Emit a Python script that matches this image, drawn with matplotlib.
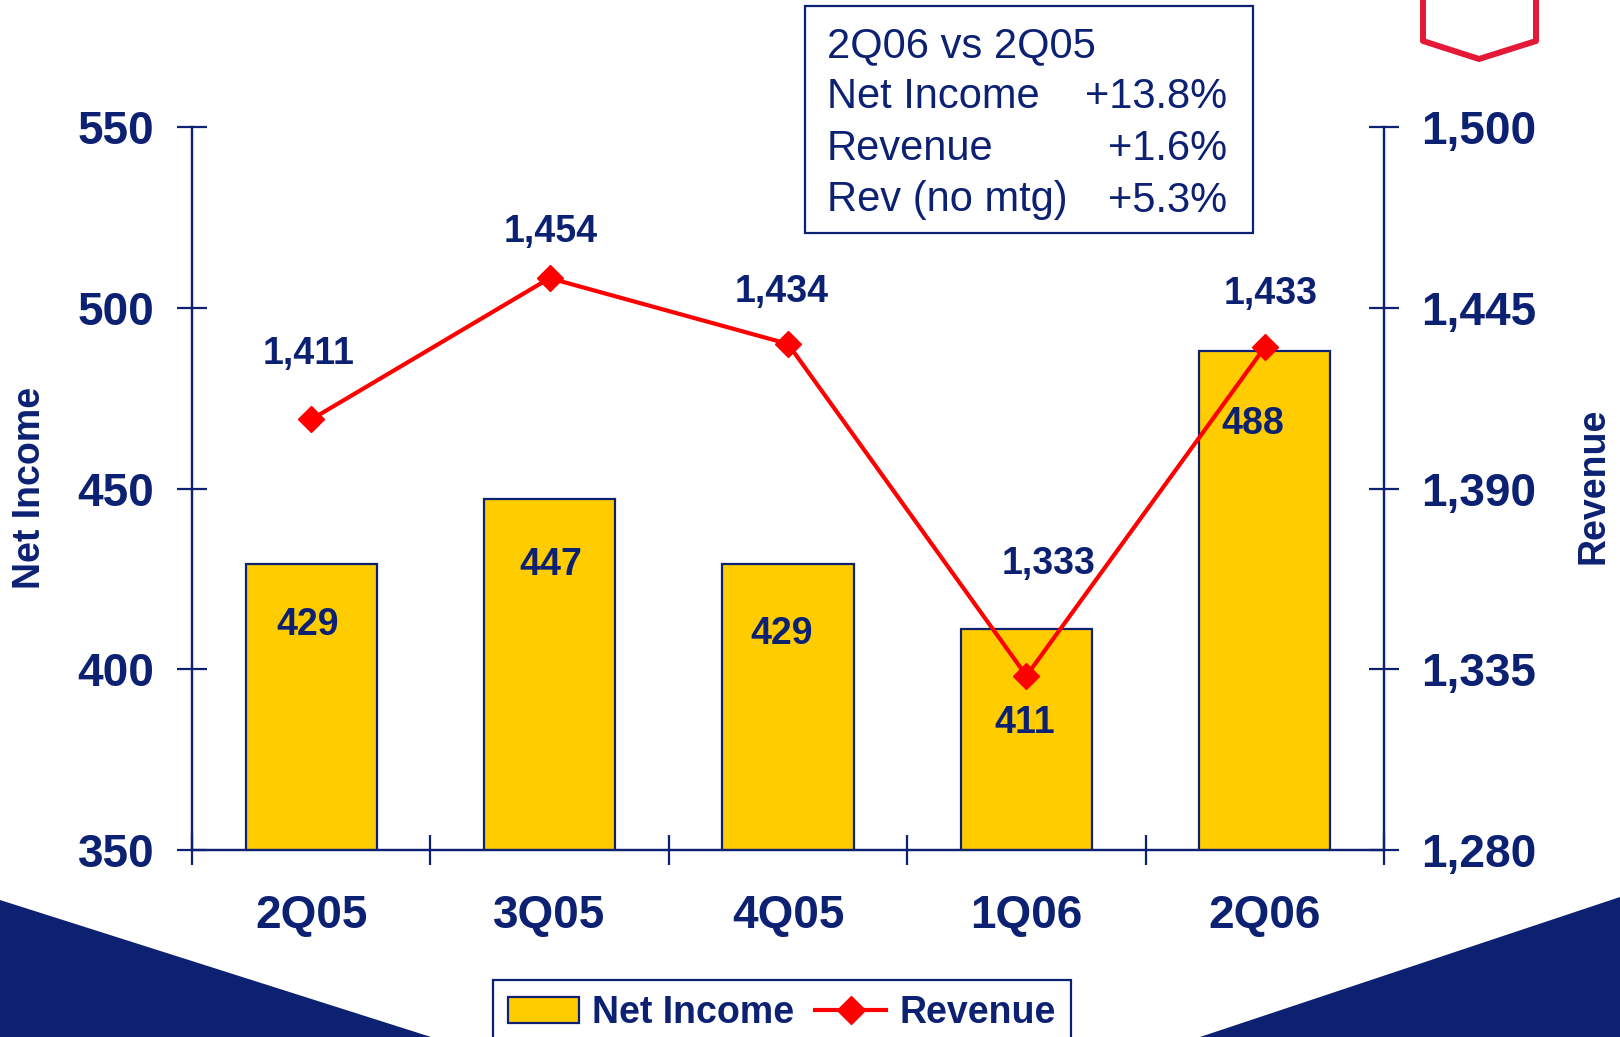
import matplotlib
matplotlib.use("Agg")
import matplotlib.pyplot as plt
from matplotlib.patches import Polygon, Rectangle
from matplotlib.lines import Line2D
from matplotlib.ticker import FuncFormatter

quarters = ["2Q05", "3Q05", "4Q05", "1Q06", "2Q06"]
net_income = [429, 447, 429, 411, 488]
revenue = [1411, 1454, 1434, 1333, 1433]

box_lines = [
    ("2Q06 vs 2Q05", ""),
    ("Net Income", "+13.8%"),
    ("Revenue", "+1.6%"),
    ("Rev (no mtg)", "+5.3%"),
]

NAVY = "#0d2173"
YELLOW = "#ffcc00"
RED = "#ff0000"
W, H = 1620, 1037

# label offsets in pixels (dx, dy) - hand tuned to match the slide
rev_off = [(-3, 65), (1, 46), (-6, 52), (22, 112), (6, 53)]
bar_off = [(-4, -61), (1, -66), (-6, -70), (-2, -94), (-12, -73)]

plt.rcParams["font.family"] = ["Liberation Sans", "DejaVu Sans"]

fig = plt.figure(figsize=(W / 100, H / 100), dpi=100)
fig.patch.set_facecolor("white")


def fx(x):
    return x / W


def fy(y):
    return 1 - y / H


ax = fig.add_axes([fx(192), fy(850), fx(1384) - fx(192), fy(127) - fy(850)])
ax2 = ax.twinx()

x = list(range(len(quarters)))
ax.bar(x, net_income, width=0.55, color=YELLOW, edgecolor=NAVY, linewidth=1.6, zorder=2)
ax.set_xlim(-0.5, len(quarters) - 0.5)
ax.set_ylim(350, 550)
ax.set_yticks(range(350, 551, 50))

ax2.plot(x, revenue, color=RED, lw=3, marker="D", ms=13.5, mec=RED, mfc=RED, zorder=3)
ax2.set_ylim(1280, 1500)
ax2.set_yticks(range(1280, 1501, 55))
ax2.yaxis.set_major_formatter(FuncFormatter(lambda v, p: f"{int(v):,}"))

# category boundaries get tick marks, centers get the labels
ax.set_xticks([i - 0.5 for i in range(len(quarters) + 1)])
ax.set_xticklabels([])
ax.set_xticks(x, minor=True)
ax.set_xticklabels(quarters, minor=True)

for a in (ax, ax2):
    a.patch.set_visible(False)
    a.spines["top"].set_visible(False)
    for s in ("left", "right", "bottom"):
        a.spines[s].set_color(NAVY)
        a.spines[s].set_linewidth(1.6)
    a.tick_params(axis="y", direction="inout", length=22, width=1.6, color=NAVY,
                  pad=16, labelsize=33, labelcolor=NAVY)
    for t in a.get_yticklabels():
        t.set_fontweight("bold")

ax.tick_params(axis="x", which="major", direction="inout", length=22, width=1.6, color=NAVY)
ax.tick_params(axis="x", which="minor", length=0, pad=32, labelsize=33, labelcolor=NAVY)
for t in ax.get_xticklabels(minor=True):
    t.set_fontweight("bold")

for i, v in enumerate(net_income):
    dx, dy = bar_off[i]
    ax.annotate(f"{v}", (i, v), xytext=(dx, dy), textcoords="offset pixels",
                ha="center", va="center", fontsize=27, fontweight="bold", color=NAVY, zorder=4)

for i, v in enumerate(revenue):
    dx, dy = rev_off[i]
    ax2.annotate(f"{v:,}", (i, v), xytext=(dx, dy), textcoords="offset pixels",
                 ha="center", va="center", fontsize=27, fontweight="bold", color=NAVY)

fig.text(fx(30), fy(488), "Net Income", rotation=90, ha="center", va="center",
         fontsize=27, fontweight="bold", color=NAVY)
fig.text(fx(1593), fy(486), "Revenue", rotation=90, ha="center", va="center",
         fontsize=27, fontweight="bold", color=NAVY)

# summary box
fig.patches.append(Rectangle((fx(805), fy(233)), fx(1253) - fx(805), fy(6) - fy(233),
                             transform=fig.transFigure, fill=False, edgecolor=NAVY, lw=1.6))
for k, (name, val) in enumerate(box_lines):
    yy = fy(46 + k * 51.5)
    fig.text(fx(827), yy, name, ha="left", va="center", fontsize=30, color=NAVY)
    if val:
        fig.text(fx(1227), yy, val, ha="right", va="center", fontsize=30, color=NAVY)

# decorative navy wedges and red outline
fig.patches.append(Polygon([(0, fy(900)), (fx(431), 0), (0, 0)], closed=True,
                           transform=fig.transFigure, color=NAVY, lw=0))
fig.patches.append(Polygon([(1, fy(897)), (fx(1200), 0), (1, 0)], closed=True,
                           transform=fig.transFigure, color=NAVY, lw=0))
fig.lines.append(Line2D([fx(1423), fx(1423), fx(1479), fx(1536), fx(1536)],
                        [fy(-5), fy(41), fy(59), fy(41), fy(-5)],
                        transform=fig.transFigure, color="#e31937", lw=4.3))

handles = [
    Rectangle((0, 0), 1, 1, facecolor=YELLOW, edgecolor=NAVY, lw=1.6),
    Line2D([], [], color=RED, lw=3, marker="D", ms=14, mec=RED, mfc=RED),
]
leg = fig.legend(handles, ["Net Income", "Revenue"], ncol=2, loc="upper left",
                 bbox_to_anchor=(fx(493), fy(980)), borderaxespad=0, frameon=True,
                 fancybox=False, framealpha=1, edgecolor=NAVY, borderpad=0.4,
                 handlelength=1.9, handletextpad=0.35, columnspacing=0.55,
                 prop={"size": 27, "weight": "bold"})
leg.get_frame().set_linewidth(1.6)
for t in leg.get_texts():
    t.set_color(NAVY)

fig.savefig("out.png", dpi=100, facecolor="white")
